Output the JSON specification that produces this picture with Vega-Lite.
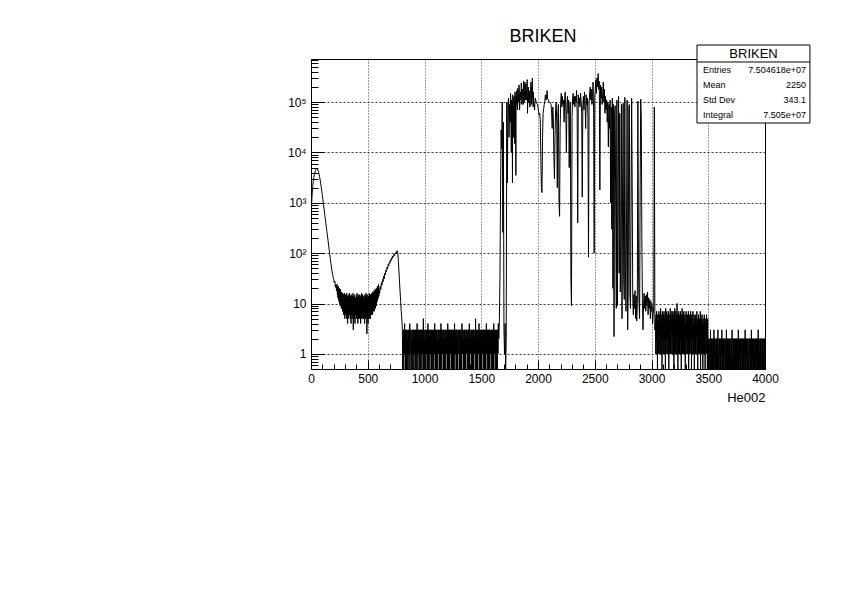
{
  "$schema": "https://vega.github.io/schema/vega-lite/v6.json",
  "width": 454,
  "height": 310,
  "autosize": {"type": "none"},
  "padding": {"left": 311, "top": 59, "right": 77, "bottom": 226},
  "background": "white",
  "config": {
    "view": {"stroke": null},
    "font": "Liberation Sans",
    "axis": {"labelFont": "Liberation Sans", "titleFont": "Liberation Sans", "labelColor": "black", "titleColor": "black", "tickColor": "black", "domainColor": "black"}
  },
  "title": {"text": "BRIKEN", "font": "Liberation Sans", "fontSize": 18, "fontWeight": "normal", "color": "black", "anchor": "middle", "frame": "group", "baseline": "alphabetic", "offset": -15, "dx": 5},
  "datasets": {
    "h": [
      {"x":0,"y":500},{"x":5,"y":900},{"x":10,"y":1500},{"x":15,"y":2100},{"x":20,"y":2700},{"x":25,"y":3200},{"x":30,"y":3700},{"x":35,"y":4100},{"x":40,"y":4400},{"x":45,"y":4650},
      {"x":50,"y":4750},{"x":55,"y":4700},{"x":60,"y":4500},{"x":65,"y":4200},{"x":70,"y":3800},{"x":75,"y":3350},{"x":80,"y":2900},{"x":85,"y":2450},{"x":90,"y":2050},{"x":95,"y":1700},
      {"x":100,"y":1400},{"x":105,"y":1150},{"x":110,"y":930},{"x":115,"y":760},{"x":120,"y":620},{"x":125,"y":500},{"x":130,"y":410},{"x":135,"y":330},{"x":140,"y":270},{"x":145,"y":220},
      {"x":150,"y":180},{"x":155,"y":145},{"x":160,"y":118},{"x":165,"y":96},{"x":170,"y":78},{"x":175,"y":64},{"x":180,"y":53},{"x":185,"y":44},{"x":190,"y":38},{"x":195,"y":33},
      {"x":200,"y":30},{"x":205,"y":26},{"x":210,"y":28},{"x":215,"y":21},{"x":220,"y":24},{"x":225,"y":18},
      {"x":230,"y":24},{"x":235,"y":21},{"x":240,"y":22},{"x":245,"y":19},{"x":250,"y":20},{"x":255,"y":17},{"x":260,"y":19},{"x":265,"y":16},{"x":270,"y":17},{"x":275,"y":15},
      {"x":280,"y":16},{"x":285,"y":15},{"x":290,"y":14},{"x":295,"y":16},{"x":300,"y":13},{"x":305,"y":15},{"x":310,"y":14},{"x":315,"y":16},{"x":320,"y":13},{"x":325,"y":14},
      {"x":330,"y":15},{"x":335,"y":13},{"x":340,"y":16},{"x":345,"y":14},{"x":350,"y":13},{"x":355,"y":15},{"x":360,"y":12},{"x":365,"y":14},{"x":370,"y":16},{"x":375,"y":13},
      {"x":380,"y":14},{"x":385,"y":15},{"x":390,"y":13},{"x":395,"y":12},{"x":400,"y":14},{"x":405,"y":16},{"x":410,"y":13},{"x":415,"y":15},{"x":420,"y":12},{"x":425,"y":14},
      {"x":430,"y":15},{"x":435,"y":13},{"x":440,"y":14},{"x":445,"y":16},{"x":450,"y":12},{"x":455,"y":15},{"x":460,"y":13},{"x":465,"y":14},{"x":470,"y":12},{"x":475,"y":15},
      {"x":480,"y":13},{"x":485,"y":16},{"x":490,"y":14},{"x":495,"y":12},{"x":500,"y":15},{"x":505,"y":13},{"x":510,"y":14},{"x":515,"y":16},{"x":520,"y":13},{"x":525,"y":15},
      {"x":530,"y":14},{"x":535,"y":16},{"x":540,"y":15},{"x":545,"y":17},{"x":550,"y":16},{"x":555,"y":18},{"x":560,"y":17},{"x":565,"y":19},{"x":570,"y":18},{"x":575,"y":20},
      {"x":580,"y":19},{"x":585,"y":22},{"x":590,"y":20},{"x":595,"y":24},
      {"x":232.5,"y":15},{"x":237.5,"y":13},{"x":242.5,"y":12},{"x":247.5,"y":11},{"x":252.5,"y":10},{"x":257.5,"y":9},{"x":262.5,"y":9},{"x":267.5,"y":8},{"x":272.5,"y":8},{"x":277.5,"y":7},
      {"x":282.5,"y":7},{"x":287.5,"y":6},{"x":292.5,"y":7},{"x":297.5,"y":5},{"x":302.5,"y":6},{"x":307.5,"y":7},{"x":312.5,"y":5},{"x":317.5,"y":6},{"x":322.5,"y":4},{"x":327.5,"y":6},
      {"x":332.5,"y":5},{"x":337.5,"y":7},{"x":342.5,"y":6},{"x":347.5,"y":5},{"x":352.5,"y":4},{"x":357.5,"y":6},{"x":362.5,"y":5},{"x":367.5,"y":7},{"x":372.5,"y":3},{"x":377.5,"y":6},
      {"x":382.5,"y":5},{"x":387.5,"y":4},{"x":392.5,"y":6},{"x":397.5,"y":7},{"x":402.5,"y":5},{"x":407.5,"y":6},{"x":412.5,"y":4},{"x":417.5,"y":5},{"x":422.5,"y":6},{"x":427.5,"y":5},
      {"x":432.5,"y":7},{"x":437.5,"y":4},{"x":442.5,"y":6},{"x":447.5,"y":5},{"x":452.5,"y":6},{"x":457.5,"y":5},{"x":462.5,"y":5},{"x":467.5,"y":6},{"x":472.5,"y":4},{"x":477.5,"y":7},
      {"x":482.5,"y":5},{"x":487.5,"y":6},{"x":492.5,"y":2.5},{"x":497.5,"y":5},{"x":502.5,"y":4},{"x":507.5,"y":6},{"x":512.5,"y":5},{"x":517.5,"y":6},{"x":522.5,"y":5},{"x":527.5,"y":6},
      {"x":532.5,"y":6},{"x":537.5,"y":7},{"x":542.5,"y":6},{"x":547.5,"y":7},{"x":552.5,"y":8},{"x":557.5,"y":7},{"x":562.5,"y":9},{"x":567.5,"y":8},{"x":572.5,"y":10},{"x":577.5,"y":9},
      {"x":582.5,"y":11},{"x":587.5,"y":12},{"x":592.5,"y":13},{"x":597.5,"y":14},
      {"x":600,"y":19},{"x":605,"y":16},{"x":610,"y":22},{"x":615,"y":19},{"x":620,"y":26},{"x":625,"y":23},{"x":630,"y":30},{"x":635,"y":27},{"x":640,"y":35},{"x":645,"y":31},
      {"x":650,"y":40},{"x":655,"y":37},{"x":660,"y":46},{"x":665,"y":43},{"x":670,"y":53},{"x":675,"y":49},{"x":680,"y":60},{"x":685,"y":56},{"x":690,"y":67},{"x":695,"y":63},
      {"x":700,"y":74},{"x":705,"y":70},{"x":710,"y":81},{"x":715,"y":77},{"x":720,"y":88},{"x":725,"y":84},{"x":730,"y":94},{"x":735,"y":90},{"x":740,"y":100},{"x":745,"y":96},
      {"x":750,"y":106},{"x":755,"y":102},{"x":760,"y":112},{"x":765,"y":98},{"x":770,"y":68},{"x":775,"y":44},{"x":780,"y":27},{"x":785,"y":17},{"x":790,"y":11},{"x":795,"y":7},
      {"x":800,"y":5},
      {"x":805,"y":3},{"x":810,"y":2},{"x":815,"y":3},{"x":820,"y":3},{"x":825,"y":4},{"x":830,"y":3},{"x":835,"y":2},{"x":840,"y":3},{"x":845,"y":3},{"x":850,"y":2},
      {"x":855,"y":3},{"x":860,"y":3},{"x":865,"y":2},{"x":870,"y":4},{"x":875,"y":3},{"x":880,"y":3},{"x":885,"y":2},{"x":890,"y":3},{"x":895,"y":3},{"x":900,"y":3},
      {"x":905,"y":2},{"x":910,"y":3},{"x":915,"y":3},{"x":920,"y":3},{"x":925,"y":2},{"x":930,"y":3},{"x":935,"y":4},{"x":940,"y":3},{"x":945,"y":2},{"x":950,"y":3},
      {"x":955,"y":3},{"x":960,"y":2},{"x":965,"y":3},{"x":970,"y":3},{"x":975,"y":3},{"x":980,"y":2},{"x":985,"y":3},{"x":990,"y":5},{"x":995,"y":3},{"x":1000,"y":2},
      {"x":1005,"y":3},{"x":1010,"y":3},{"x":1015,"y":2},{"x":1020,"y":3},{"x":1025,"y":3},{"x":1030,"y":4},{"x":1035,"y":3},{"x":1040,"y":2},{"x":1045,"y":3},{"x":1050,"y":3},
      {"x":1055,"y":2},{"x":1060,"y":3},{"x":1065,"y":3},{"x":1070,"y":3},{"x":1075,"y":2},{"x":1080,"y":3},{"x":1085,"y":3},{"x":1090,"y":4},{"x":1095,"y":3},{"x":1100,"y":2},
      {"x":1105,"y":3},{"x":1110,"y":3},{"x":1115,"y":2},{"x":1120,"y":3},{"x":1125,"y":3},{"x":1130,"y":3},{"x":1135,"y":2},{"x":1140,"y":3},{"x":1145,"y":4},{"x":1150,"y":3},
      {"x":1155,"y":3},{"x":1160,"y":2},{"x":1165,"y":3},{"x":1170,"y":3},{"x":1175,"y":2},{"x":1180,"y":3},{"x":1185,"y":3},{"x":1190,"y":3},{"x":1195,"y":2},{"x":1200,"y":3},
      {"x":1205,"y":4},{"x":1210,"y":3},{"x":1215,"y":2},{"x":1220,"y":3},{"x":1225,"y":3},{"x":1230,"y":3},{"x":1235,"y":2},{"x":1240,"y":3},{"x":1245,"y":3},{"x":1250,"y":2},
      {"x":1255,"y":3},{"x":1260,"y":3},{"x":1265,"y":4},{"x":1270,"y":2},{"x":1275,"y":3},{"x":1280,"y":3},{"x":1285,"y":3},{"x":1290,"y":2},{"x":1295,"y":3},{"x":1300,"y":3},
      {"x":1305,"y":2},{"x":1310,"y":3},{"x":1315,"y":3},{"x":1320,"y":3},{"x":1325,"y":2},{"x":1330,"y":4},{"x":1335,"y":3},{"x":1340,"y":3},{"x":1345,"y":2},{"x":1350,"y":3},
      {"x":1355,"y":3},{"x":1360,"y":2},{"x":1365,"y":3},{"x":1370,"y":3},{"x":1375,"y":3},{"x":1380,"y":2},{"x":1385,"y":3},{"x":1390,"y":3},{"x":1395,"y":4},{"x":1400,"y":3},
      {"x":1405,"y":2},{"x":1410,"y":3},{"x":1415,"y":3},{"x":1420,"y":2},{"x":1425,"y":3},{"x":1430,"y":3},{"x":1435,"y":3},{"x":1440,"y":2},{"x":1445,"y":3},{"x":1450,"y":5},
      {"x":1455,"y":3},{"x":1460,"y":3},{"x":1465,"y":2},{"x":1470,"y":3},{"x":1475,"y":3},{"x":1480,"y":4},{"x":1485,"y":3},{"x":1490,"y":2},{"x":1495,"y":3},{"x":1500,"y":3},
      {"x":1505,"y":2},{"x":1510,"y":3},{"x":1515,"y":3},{"x":1520,"y":3},{"x":1525,"y":2},{"x":1530,"y":3},{"x":1535,"y":3},{"x":1540,"y":2},{"x":1545,"y":4},{"x":1550,"y":3},
      {"x":1555,"y":3},{"x":1560,"y":2},{"x":1565,"y":3},{"x":1570,"y":3},{"x":1575,"y":3},{"x":1580,"y":2},{"x":1585,"y":3},{"x":1590,"y":3},{"x":1595,"y":2},{"x":1600,"y":3},
      {"x":1605,"y":3},{"x":1610,"y":4},{"x":1615,"y":3},{"x":1620,"y":2},{"x":1625,"y":3},{"x":1630,"y":3},{"x":1635,"y":3},{"x":1640,"y":2},{"x":1645,"y":3},
      {"x":807.5,"y":0},{"x":812.5,"y":1},{"x":817.5,"y":0},{"x":822.5,"y":1},{"x":827.5,"y":1},{"x":832.5,"y":0},{"x":837.5,"y":1},{"x":842.5,"y":0},{"x":847.5,"y":0},{"x":852.5,"y":1},
      {"x":857.5,"y":1},{"x":862.5,"y":0},{"x":867.5,"y":1},{"x":872.5,"y":0},{"x":877.5,"y":2},{"x":882.5,"y":1},{"x":887.5,"y":0},{"x":892.5,"y":1},{"x":897.5,"y":0},{"x":902.5,"y":1},
      {"x":907.5,"y":0},{"x":912.5,"y":1},{"x":917.5,"y":1},{"x":922.5,"y":0},{"x":927.5,"y":1},{"x":932.5,"y":0},{"x":937.5,"y":1},{"x":942.5,"y":0},{"x":947.5,"y":1},{"x":952.5,"y":1},
      {"x":957.5,"y":0},{"x":962.5,"y":1},{"x":967.5,"y":0},{"x":972.5,"y":1},{"x":977.5,"y":0},{"x":982.5,"y":1},{"x":987.5,"y":2},{"x":992.5,"y":0},{"x":997.5,"y":1},{"x":1002.5,"y":0},
      {"x":1007.5,"y":1},{"x":1012.5,"y":0},{"x":1017.5,"y":1},{"x":1022.5,"y":1},{"x":1027.5,"y":0},{"x":1032.5,"y":1},{"x":1037.5,"y":0},{"x":1042.5,"y":1},{"x":1047.5,"y":0},{"x":1052.5,"y":1},
      {"x":1057.5,"y":1},{"x":1062.5,"y":0},{"x":1067.5,"y":1},{"x":1072.5,"y":0},{"x":1077.5,"y":1},{"x":1082.5,"y":0},{"x":1087.5,"y":1},{"x":1092.5,"y":1},{"x":1097.5,"y":0},{"x":1102.5,"y":1},
      {"x":1107.5,"y":0},{"x":1112.5,"y":1},{"x":1117.5,"y":0},{"x":1122.5,"y":1},{"x":1127.5,"y":2},{"x":1132.5,"y":0},{"x":1137.5,"y":1},{"x":1142.5,"y":0},{"x":1147.5,"y":1},{"x":1152.5,"y":0},
      {"x":1157.5,"y":1},{"x":1162.5,"y":1},{"x":1167.5,"y":0},{"x":1172.5,"y":1},{"x":1177.5,"y":0},{"x":1182.5,"y":1},{"x":1187.5,"y":0},{"x":1192.5,"y":1},{"x":1197.5,"y":1},{"x":1202.5,"y":0},
      {"x":1207.5,"y":1},{"x":1212.5,"y":0},{"x":1217.5,"y":1},{"x":1222.5,"y":0},{"x":1227.5,"y":1},{"x":1232.5,"y":1},{"x":1237.5,"y":0},{"x":1242.5,"y":1},{"x":1247.5,"y":0},{"x":1252.5,"y":1},
      {"x":1257.5,"y":0},{"x":1262.5,"y":1},{"x":1267.5,"y":0},{"x":1272.5,"y":1},{"x":1277.5,"y":1},{"x":1282.5,"y":0},{"x":1287.5,"y":1},{"x":1292.5,"y":0},{"x":1297.5,"y":2},{"x":1302.5,"y":1},
      {"x":1307.5,"y":0},{"x":1312.5,"y":1},{"x":1317.5,"y":0},{"x":1322.5,"y":1},{"x":1327.5,"y":0},{"x":1332.5,"y":1},{"x":1337.5,"y":1},{"x":1342.5,"y":0},{"x":1347.5,"y":1},{"x":1352.5,"y":0},
      {"x":1357.5,"y":1},{"x":1362.5,"y":0},{"x":1367.5,"y":1},{"x":1372.5,"y":1},{"x":1377.5,"y":0},{"x":1382.5,"y":1},{"x":1387.5,"y":0},{"x":1392.5,"y":1},{"x":1397.5,"y":0},{"x":1402.5,"y":1},
      {"x":1407.5,"y":1},{"x":1412.5,"y":0},{"x":1417.5,"y":1},{"x":1422.5,"y":0},{"x":1427.5,"y":1},{"x":1432.5,"y":0},{"x":1437.5,"y":1},{"x":1442.5,"y":1},{"x":1447.5,"y":0},{"x":1452.5,"y":1},
      {"x":1457.5,"y":0},{"x":1462.5,"y":1},{"x":1467.5,"y":0},{"x":1472.5,"y":1},{"x":1477.5,"y":1},{"x":1482.5,"y":0},{"x":1487.5,"y":2},{"x":1492.5,"y":0},{"x":1497.5,"y":1},{"x":1502.5,"y":0},
      {"x":1507.5,"y":1},{"x":1512.5,"y":1},{"x":1517.5,"y":0},{"x":1522.5,"y":1},{"x":1527.5,"y":0},{"x":1532.5,"y":1},{"x":1537.5,"y":0},{"x":1542.5,"y":1},{"x":1547.5,"y":1},{"x":1552.5,"y":0},
      {"x":1557.5,"y":1},{"x":1562.5,"y":0},{"x":1567.5,"y":1},{"x":1572.5,"y":0},{"x":1577.5,"y":1},{"x":1582.5,"y":1},{"x":1587.5,"y":0},{"x":1592.5,"y":1},{"x":1597.5,"y":0},{"x":1602.5,"y":1},
      {"x":1607.5,"y":0},{"x":1612.5,"y":1},{"x":1617.5,"y":1},{"x":1622.5,"y":0},{"x":1627.5,"y":1},{"x":1632.5,"y":0},{"x":1637.5,"y":1},{"x":1642.5,"y":0},{"x":1647.5,"y":1},
      {"x":1650,"y":4},{"x":1655,"y":2},{"x":1660,"y":5},{"x":1665,"y":40},{"x":1670,"y":1500},{"x":1675,"y":28000},{"x":1680,"y":12000},{"x":1685,"y":100000},{"x":1690,"y":260},{"x":1695,"y":40000},
      {"x":1700,"y":3},{"x":1705,"y":1},{"x":1710,"y":4},{"x":1715,"y":0},{"x":1720,"y":2},{"x":1725,"y":100000},{"x":1730,"y":2500},{"x":1735,"y":80000},{"x":1740,"y":120000},{"x":1745,"y":20000},
      {"x":1750,"y":90000},{"x":1755,"y":40000},{"x":1760,"y":120000},{"x":1765,"y":10000},{"x":1770,"y":100000},{"x":1775,"y":2500},{"x":1780,"y":110000},{"x":1785,"y":60000},{"x":1790,"y":130000},{"x":1795,"y":15000},
      {"x":1800,"y":100000},{"x":1805,"y":3500},{"x":1810,"y":90000},{"x":1815,"y":140000},{"x":1820,"y":70000},{"x":1825,"y":150000},{"x":1830,"y":100000},{"x":1835,"y":180000},{"x":1840,"y":90000},{"x":1845,"y":160000},
      {"x":1850,"y":110000},{"x":1855,"y":200000},{"x":1860,"y":120000},{"x":1865,"y":170000},{"x":1870,"y":90000},{"x":1875,"y":210000},{"x":1880,"y":130000},{"x":1885,"y":250000},{"x":1890,"y":110000},{"x":1895,"y":180000},
      {"x":1900,"y":140000},{"x":1905,"y":280000},{"x":1910,"y":120000},{"x":1915,"y":200000},{"x":1920,"y":100000},{"x":1925,"y":150000},{"x":1930,"y":80000},{"x":1935,"y":120000},{"x":1940,"y":90000},{"x":1945,"y":200000},
      {"x":1950,"y":300000},{"x":1955,"y":110000},{"x":1960,"y":160000},{"x":1965,"y":90000},{"x":1970,"y":70000},{"x":1975,"y":100000},{"x":1980,"y":110000},{"x":1985,"y":100000},{"x":1990,"y":95000},{"x":1995,"y":90000},
      {"x":1752.5,"y":60000},{"x":1757.5,"y":150000},{"x":1762.5,"y":30000},{"x":1767.5,"y":110000},{"x":1772.5,"y":80000},{"x":1777.5,"y":140000},{"x":1782.5,"y":20000},{"x":1787.5,"y":120000},{"x":1792.5,"y":90000},{"x":1797.5,"y":160000},
      {"x":1802.5,"y":50000},{"x":1807.5,"y":130000},{"x":1812.5,"y":170000},{"x":1817.5,"y":80000},{"x":1822.5,"y":190000},{"x":1827.5,"y":100000},{"x":1832.5,"y":220000},{"x":1837.5,"y":70000},{"x":1842.5,"y":150000},{"x":1847.5,"y":120000},
      {"x":1852.5,"y":240000},{"x":1857.5,"y":90000},{"x":1862.5,"y":180000},{"x":1867.5,"y":130000},{"x":1872.5,"y":260000},{"x":1877.5,"y":100000},{"x":1882.5,"y":170000},{"x":1887.5,"y":140000},{"x":1892.5,"y":230000},{"x":1897.5,"y":110000},
      {"x":1902.5,"y":190000},{"x":1907.5,"y":60000},{"x":1912.5,"y":140000},{"x":1917.5,"y":100000},{"x":1922.5,"y":170000},{"x":1927.5,"y":80000},{"x":1932.5,"y":130000},{"x":1937.5,"y":250000},{"x":1942.5,"y":90000},{"x":1947.5,"y":150000},
      {"x":1952.5,"y":120000},{"x":1957.5,"y":80000},{"x":1962.5,"y":110000},{"x":1967.5,"y":90000},{"x":1972.5,"y":100000},{"x":1977.5,"y":120000},{"x":1982.5,"y":105000},
      {"x":2000,"y":80000},{"x":2005,"y":65000},{"x":2010,"y":55000},{"x":2015,"y":60000},{"x":2020,"y":45000},{"x":2025,"y":8000},{"x":2030,"y":2000},{"x":2035,"y":1600},{"x":2040,"y":20000},{"x":2045,"y":60000},
      {"x":2050,"y":75000},{"x":2055,"y":90000},{"x":2060,"y":100000},{"x":2065,"y":140000},{"x":2070,"y":110000},{"x":2075,"y":120000},{"x":2080,"y":170000},{"x":2085,"y":120000},{"x":2090,"y":110000},{"x":2095,"y":105000},
      {"x":2100,"y":100000},{"x":2105,"y":100000},{"x":2110,"y":95000},{"x":2115,"y":90000},{"x":2120,"y":60000},{"x":2125,"y":30000},{"x":2130,"y":80000},{"x":2135,"y":50000},{"x":2140,"y":8000},{"x":2145,"y":3000},
      {"x":2150,"y":20000},{"x":2155,"y":70000},{"x":2160,"y":100000},{"x":2165,"y":40000},{"x":2170,"y":2000},{"x":2175,"y":60000},{"x":2180,"y":90000},{"x":2185,"y":1000},{"x":2190,"y":540},{"x":2195,"y":30000},
      {"x":2200,"y":100000},{"x":2205,"y":150000},{"x":2210,"y":80000},{"x":2215,"y":130000},{"x":2220,"y":90000},{"x":2225,"y":110000},{"x":2230,"y":40000},{"x":2235,"y":120000},{"x":2240,"y":160000},{"x":2245,"y":70000},
      {"x":2250,"y":10000},{"x":2255,"y":90000},{"x":2260,"y":130000},{"x":2265,"y":60000},{"x":2270,"y":110000},{"x":2275,"y":5000},{"x":2280,"y":80000},{"x":2285,"y":100000},{"x":2290,"y":30},{"x":2295,"y":9},
      {"x":2300,"y":50000},{"x":2305,"y":120000},{"x":2310,"y":150000},{"x":2315,"y":90000},{"x":2320,"y":130000},{"x":2325,"y":80000},{"x":2330,"y":130000},{"x":2335,"y":100000},{"x":2340,"y":170000},{"x":2345,"y":60000},
      {"x":2350,"y":400},{"x":2355,"y":140000},{"x":2360,"y":90000},{"x":2365,"y":120000},{"x":2370,"y":80000},{"x":2375,"y":150000},{"x":2380,"y":100000},{"x":2385,"y":60000},{"x":2390,"y":1300},{"x":2395,"y":90000},
      {"x":2400,"y":130000},{"x":2405,"y":70000},{"x":2410,"y":160000},{"x":2415,"y":100000},{"x":2420,"y":30000},{"x":2425,"y":140000},{"x":2430,"y":90000},{"x":2435,"y":120000},{"x":2440,"y":50000},{"x":2445,"y":83},
      {"x":2450,"y":100000},{"x":2455,"y":150000},{"x":2460,"y":200000},{"x":2465,"y":110000},{"x":2470,"y":180000},{"x":2475,"y":90000},{"x":2480,"y":130000},{"x":2485,"y":250000},{"x":2490,"y":60000},{"x":2495,"y":100},
      {"x":2500,"y":120000},{"x":2505,"y":200000},{"x":2510,"y":280000},{"x":2515,"y":150000},{"x":2520,"y":300000},{"x":2525,"y":200000},{"x":2530,"y":370000},{"x":2535,"y":180000},{"x":2540,"y":260000},{"x":2545,"y":1800},
      {"x":2550,"y":220000},{"x":2555,"y":120000},{"x":2560,"y":200000},{"x":2565,"y":90000},{"x":2570,"y":150000},{"x":2575,"y":250000},{"x":2580,"y":100000},{"x":2585,"y":180000},{"x":2590,"y":60000},{"x":2595,"y":130000},
      {"x":2600,"y":70000},{"x":2605,"y":110000},{"x":2610,"y":40000},{"x":2615,"y":100000},{"x":2620,"y":13000},{"x":2625,"y":90000},{"x":2630,"y":30000},{"x":2635,"y":110000},{"x":2640,"y":1000},{"x":2645,"y":80000},
      {"x":2650,"y":300},{"x":2655,"y":120000},{"x":2660,"y":20},{"x":2665,"y":90000},{"x":2670,"y":2.2},{"x":2675,"y":60000},{"x":2680,"y":85000},{"x":2685,"y":500},{"x":2690,"y":8},{"x":2695,"y":110000},
      {"x":2700,"y":9},{"x":2705,"y":3000},{"x":2710,"y":130000},{"x":2715,"y":40},{"x":2720,"y":60000},{"x":2725,"y":17},{"x":2730,"y":200},{"x":2735,"y":90000},{"x":2740,"y":5},{"x":2745,"y":1500},
      {"x":2750,"y":95000},{"x":2755,"y":30},{"x":2760,"y":12},{"x":2765,"y":125000},{"x":2770,"y":50},{"x":2775,"y":7},{"x":2780,"y":400},{"x":2785,"y":110000},{"x":2790,"y":3},{"x":2795,"y":20},
      {"x":2800,"y":80000},{"x":2805,"y":90000},{"x":2810,"y":15},{"x":2815,"y":8},{"x":2820,"y":1000},{"x":2825,"y":120000},{"x":2830,"y":2000},{"x":2835,"y":12},{"x":2840,"y":6},{"x":2845,"y":15},
      {"x":2850,"y":8},{"x":2855,"y":18},{"x":2860,"y":5},{"x":2865,"y":14},{"x":2870,"y":4.5},{"x":2875,"y":10},{"x":2880,"y":105000},{"x":2885,"y":60},{"x":2890,"y":10},{"x":2895,"y":5},
      {"x":2900,"y":2000},{"x":2905,"y":115000},{"x":2910,"y":50000},{"x":2915,"y":190},{"x":2920,"y":12},{"x":2925,"y":3},{"x":2930,"y":10},{"x":2935,"y":16},{"x":2940,"y":8},{"x":2945,"y":14},
      {"x":2950,"y":7},{"x":2955,"y":15},{"x":2960,"y":9},{"x":2965,"y":17},{"x":2970,"y":6},{"x":2975,"y":13},{"x":2980,"y":8},{"x":2985,"y":12},{"x":2990,"y":5},{"x":2995,"y":11},
      {"x":3000,"y":7},{"x":3005,"y":9},{"x":3010,"y":4},{"x":3015,"y":6},{"x":3020,"y":9},{"x":3025,"y":80000},{"x":3030,"y":3},
      {"x":3035,"y":5},{"x":3040,"y":6},{"x":3045,"y":7},{"x":3050,"y":5},{"x":3055,"y":6},{"x":3060,"y":4},{"x":3065,"y":7},{"x":3070,"y":6},{"x":3075,"y":5},{"x":3080,"y":8},
      {"x":3085,"y":6},{"x":3090,"y":5},{"x":3095,"y":7},{"x":3100,"y":4},{"x":3105,"y":6},{"x":3110,"y":7},{"x":3115,"y":5},{"x":3120,"y":6},{"x":3125,"y":8},{"x":3130,"y":5},
      {"x":3135,"y":7},{"x":3140,"y":6},{"x":3145,"y":5},{"x":3150,"y":7},{"x":3155,"y":6},{"x":3160,"y":4},{"x":3165,"y":8},{"x":3170,"y":6},{"x":3175,"y":5},{"x":3180,"y":7},
      {"x":3185,"y":6},{"x":3190,"y":7},{"x":3195,"y":5},{"x":3200,"y":6},{"x":3205,"y":8},{"x":3210,"y":5},{"x":3215,"y":7},{"x":3220,"y":6},{"x":3225,"y":10},{"x":3230,"y":6},
      {"x":3235,"y":5},{"x":3240,"y":7},{"x":3245,"y":6},{"x":3250,"y":5},{"x":3255,"y":7},{"x":3260,"y":4},{"x":3265,"y":6},{"x":3270,"y":8},{"x":3275,"y":5},{"x":3280,"y":6},
      {"x":3285,"y":7},{"x":3290,"y":5},{"x":3295,"y":6},{"x":3300,"y":4},{"x":3305,"y":7},{"x":3310,"y":6},{"x":3315,"y":5},{"x":3320,"y":6},{"x":3325,"y":7},{"x":3330,"y":5},
      {"x":3335,"y":6},{"x":3340,"y":4},{"x":3345,"y":7},{"x":3350,"y":5},{"x":3355,"y":6},{"x":3360,"y":5},{"x":3365,"y":7},{"x":3370,"y":4},{"x":3375,"y":6},{"x":3380,"y":5},
      {"x":3385,"y":4},{"x":3390,"y":6},{"x":3395,"y":5},{"x":3400,"y":7},{"x":3405,"y":4},{"x":3410,"y":5},{"x":3415,"y":6},{"x":3420,"y":4},{"x":3425,"y":5},{"x":3430,"y":7},
      {"x":3435,"y":4},{"x":3440,"y":5},{"x":3445,"y":6},{"x":3450,"y":4},{"x":3455,"y":5},{"x":3460,"y":4},{"x":3465,"y":6},{"x":3470,"y":5},{"x":3475,"y":4},{"x":3480,"y":5},
      {"x":3485,"y":6},{"x":3490,"y":4},{"x":3495,"y":5},
      {"x":3037.5,"y":1},{"x":3042.5,"y":2},{"x":3047.5,"y":1},{"x":3052.5,"y":0},{"x":3057.5,"y":2},{"x":3062.5,"y":1},{"x":3067.5,"y":1},{"x":3072.5,"y":3},{"x":3077.5,"y":1},{"x":3082.5,"y":2},
      {"x":3087.5,"y":1},{"x":3092.5,"y":0},{"x":3097.5,"y":2},{"x":3102.5,"y":1},{"x":3107.5,"y":1},{"x":3112.5,"y":2},{"x":3117.5,"y":1},{"x":3122.5,"y":0},{"x":3127.5,"y":1},{"x":3132.5,"y":2},
      {"x":3137.5,"y":1},{"x":3142.5,"y":1},{"x":3147.5,"y":2},{"x":3152.5,"y":0},{"x":3157.5,"y":1},{"x":3162.5,"y":2},{"x":3167.5,"y":1},{"x":3172.5,"y":1},{"x":3177.5,"y":3},{"x":3182.5,"y":1},
      {"x":3187.5,"y":2},{"x":3192.5,"y":1},{"x":3197.5,"y":0},{"x":3202.5,"y":1},{"x":3207.5,"y":2},{"x":3212.5,"y":1},{"x":3217.5,"y":1},{"x":3222.5,"y":2},{"x":3227.5,"y":1},{"x":3232.5,"y":0},
      {"x":3237.5,"y":1},{"x":3242.5,"y":2},{"x":3247.5,"y":1},{"x":3252.5,"y":1},{"x":3257.5,"y":2},{"x":3262.5,"y":0},{"x":3267.5,"y":1},{"x":3272.5,"y":1},{"x":3277.5,"y":2},{"x":3282.5,"y":1},
      {"x":3287.5,"y":3},{"x":3292.5,"y":1},{"x":3297.5,"y":0},{"x":3302.5,"y":1},{"x":3307.5,"y":2},{"x":3312.5,"y":1},{"x":3317.5,"y":1},{"x":3322.5,"y":2},{"x":3327.5,"y":0},{"x":3332.5,"y":1},
      {"x":3337.5,"y":1},{"x":3342.5,"y":2},{"x":3347.5,"y":1},{"x":3352.5,"y":0},{"x":3357.5,"y":1},{"x":3362.5,"y":2},{"x":3367.5,"y":1},{"x":3372.5,"y":1},{"x":3377.5,"y":0},{"x":3382.5,"y":2},
      {"x":3387.5,"y":1},{"x":3392.5,"y":1},{"x":3397.5,"y":2},{"x":3402.5,"y":1},{"x":3407.5,"y":0},{"x":3412.5,"y":1},{"x":3417.5,"y":2},{"x":3422.5,"y":1},{"x":3427.5,"y":1},{"x":3432.5,"y":0},
      {"x":3437.5,"y":2},{"x":3442.5,"y":1},{"x":3447.5,"y":1},{"x":3452.5,"y":0},{"x":3457.5,"y":1},{"x":3462.5,"y":2},{"x":3467.5,"y":1},{"x":3472.5,"y":0},{"x":3477.5,"y":1},{"x":3482.5,"y":1},
      {"x":3487.5,"y":2},{"x":3492.5,"y":0},{"x":3497.5,"y":1},
      {"x":3500,"y":2},{"x":3505,"y":2},{"x":3510,"y":1},{"x":3515,"y":2},{"x":3520,"y":3},{"x":3525,"y":2},{"x":3530,"y":2},{"x":3535,"y":1},{"x":3540,"y":2},{"x":3545,"y":2},
      {"x":3550,"y":3},{"x":3555,"y":2},{"x":3560,"y":2},{"x":3565,"y":1},{"x":3570,"y":2},{"x":3575,"y":2},{"x":3580,"y":2},{"x":3585,"y":3},{"x":3590,"y":1},{"x":3595,"y":2},
      {"x":3600,"y":2},{"x":3605,"y":1},{"x":3610,"y":2},{"x":3615,"y":2},{"x":3620,"y":3},{"x":3625,"y":2},{"x":3630,"y":1},{"x":3635,"y":2},{"x":3640,"y":2},{"x":3645,"y":2},
      {"x":3650,"y":1},{"x":3655,"y":2},{"x":3660,"y":3},{"x":3665,"y":2},{"x":3670,"y":2},{"x":3675,"y":1},{"x":3680,"y":2},{"x":3685,"y":2},{"x":3690,"y":2},{"x":3695,"y":1},
      {"x":3700,"y":2},{"x":3705,"y":2},{"x":3710,"y":3},{"x":3715,"y":1},{"x":3720,"y":2},{"x":3725,"y":2},{"x":3730,"y":2},{"x":3735,"y":1},{"x":3740,"y":2},{"x":3745,"y":2},
      {"x":3750,"y":2},{"x":3755,"y":1},{"x":3760,"y":2},{"x":3765,"y":3},{"x":3770,"y":2},{"x":3775,"y":2},{"x":3780,"y":1},{"x":3785,"y":2},{"x":3790,"y":2},{"x":3795,"y":1},
      {"x":3800,"y":2},{"x":3805,"y":2},{"x":3810,"y":2},{"x":3815,"y":1},{"x":3820,"y":2},{"x":3825,"y":3},{"x":3830,"y":2},{"x":3835,"y":2},{"x":3840,"y":1},{"x":3845,"y":2},
      {"x":3850,"y":2},{"x":3855,"y":1},{"x":3860,"y":2},{"x":3865,"y":2},{"x":3870,"y":2},{"x":3875,"y":1},{"x":3880,"y":3},{"x":3885,"y":2},{"x":3890,"y":2},{"x":3895,"y":1},
      {"x":3900,"y":2},{"x":3905,"y":2},{"x":3910,"y":1},{"x":3915,"y":2},{"x":3920,"y":2},{"x":3925,"y":2},{"x":3930,"y":1},{"x":3935,"y":2},{"x":3940,"y":3},{"x":3945,"y":2},
      {"x":3950,"y":1},{"x":3955,"y":2},{"x":3960,"y":2},{"x":3965,"y":2},{"x":3970,"y":1},{"x":3975,"y":2},{"x":3980,"y":2},{"x":3985,"y":1},{"x":3990,"y":2},{"x":3995,"y":2},
      {"x":4000,"y":1},
      {"x":3502.5,"y":0},{"x":3507.5,"y":0},{"x":3512.5,"y":1},{"x":3517.5,"y":0},{"x":3522.5,"y":0},{"x":3527.5,"y":0},{"x":3532.5,"y":1},{"x":3537.5,"y":0},{"x":3542.5,"y":0},{"x":3547.5,"y":0},
      {"x":3552.5,"y":1},{"x":3557.5,"y":0},{"x":3562.5,"y":0},{"x":3567.5,"y":0},{"x":3572.5,"y":0},{"x":3577.5,"y":1},{"x":3582.5,"y":0},{"x":3587.5,"y":0},{"x":3592.5,"y":0},{"x":3597.5,"y":1},
      {"x":3602.5,"y":0},{"x":3607.5,"y":0},{"x":3612.5,"y":0},{"x":3617.5,"y":1},{"x":3622.5,"y":0},{"x":3627.5,"y":0},{"x":3632.5,"y":0},{"x":3637.5,"y":0},{"x":3642.5,"y":1},{"x":3647.5,"y":0},
      {"x":3652.5,"y":0},{"x":3657.5,"y":1},{"x":3662.5,"y":0},{"x":3667.5,"y":0},{"x":3672.5,"y":0},{"x":3677.5,"y":0},{"x":3682.5,"y":1},{"x":3687.5,"y":0},{"x":3692.5,"y":0},{"x":3697.5,"y":0},
      {"x":3702.5,"y":0},{"x":3707.5,"y":1},{"x":3712.5,"y":0},{"x":3717.5,"y":0},{"x":3722.5,"y":0},{"x":3727.5,"y":1},{"x":3732.5,"y":0},{"x":3737.5,"y":0},{"x":3742.5,"y":0},{"x":3747.5,"y":0},
      {"x":3752.5,"y":1},{"x":3757.5,"y":0},{"x":3762.5,"y":0},{"x":3767.5,"y":0},{"x":3772.5,"y":0},{"x":3777.5,"y":1},{"x":3782.5,"y":0},{"x":3787.5,"y":0},{"x":3792.5,"y":1},{"x":3797.5,"y":0},
      {"x":3802.5,"y":0},{"x":3807.5,"y":0},{"x":3812.5,"y":0},{"x":3817.5,"y":1},{"x":3822.5,"y":0},{"x":3827.5,"y":0},{"x":3832.5,"y":0},{"x":3837.5,"y":1},{"x":3842.5,"y":0},{"x":3847.5,"y":0},
      {"x":3852.5,"y":0},{"x":3857.5,"y":0},{"x":3862.5,"y":1},{"x":3867.5,"y":0},{"x":3872.5,"y":0},{"x":3877.5,"y":0},{"x":3882.5,"y":0},{"x":3887.5,"y":1},{"x":3892.5,"y":0},{"x":3897.5,"y":0},
      {"x":3902.5,"y":1},{"x":3907.5,"y":0},{"x":3912.5,"y":0},{"x":3917.5,"y":0},{"x":3922.5,"y":0},{"x":3927.5,"y":1},{"x":3932.5,"y":0},{"x":3937.5,"y":0},{"x":3942.5,"y":0},{"x":3947.5,"y":1},
      {"x":3952.5,"y":0},{"x":3957.5,"y":0},{"x":3962.5,"y":0},{"x":3967.5,"y":1},{"x":3972.5,"y":0},{"x":3977.5,"y":0},{"x":3982.5,"y":0},{"x":3987.5,"y":0},{"x":3992.5,"y":1},{"x":3997.5,"y":0}
    ],
    "box": [{"x1": 3401, "x2": 4396, "y1": 38540, "y2": 1366000, "yd": 628000}],
    "head": [{"x": 3899, "y": 925000, "t": "BRIKEN"}],
    "stats": [
      {"lx": 3454, "rx": 4361, "y": 435000, "label": "Entries", "value": "7.504618e+07"},
      {"lx": 3454, "rx": 4361, "y": 219000, "label": "Mean", "value": "2250"},
      {"lx": 3454, "rx": 4361, "y": 110400, "label": "Std Dev", "value": "343.1"},
      {"lx": 3454, "rx": 4361, "y": 55570, "label": "Integral", "value": "7.505e+07"}
    ]
  },
  "resolve": {"scale": {"y": "independent"}, "axis": {"x": "independent", "y": "independent"}},
  "layer": [
    {
      "data": {"name": "h"},
      "mark": {"type": "line", "color": "black", "strokeWidth": 1, "clip": true},
      "encoding": {
        "x": {"field": "x", "type": "quantitative",
          "scale": {"domain": [0, 4000], "nice": false, "zero": false},
          "axis": {"orient": "bottom", "values": [0, 500, 1000, 1500, 2000, 2500, 3000, 3500, 4000], "format": "d", "tickSize": -9, "domain": true, "grid": true, "gridColor": "#333", "gridDash": [1, 2], "gridOpacity": 1, "labelFontSize": 12, "labelPadding": 13, "labelFlush": false, "labelOverlap": false, "title": "He002", "titleFontSize": 13, "titleFontWeight": "normal", "titleAlign": "right", "titleBaseline": "alphabetic", "titleX": 454, "titleY": 32}},
        "y": {"field": "y", "type": "quantitative",
          "scale": {"type": "log", "domain": [0.5, 720000], "nice": false, "clamp": true},
          "axis": {"orient": "left", "values": [1, 10, 100, 1000, 10000, 100000], "tickSize": -13, "domain": true, "grid": true, "gridColor": "#333", "gridDash": [2, 2], "gridOpacity": 1, "labelFontSize": 12, "labelPadding": 18, "labelExpr": "datum.value == 1 ? '1' : datum.value == 10 ? '10' : datum.value == 100 ? '10²' : datum.value == 1000 ? '10³' : datum.value == 10000 ? '10⁴' : '10⁵'", "title": null}}
      }
    },
    {
      "data": {"name": "box"},
      "mark": {"type": "point", "opacity": 0},
      "encoding": {
        "x": {"field": "x1", "type": "quantitative",
          "scale": {"domain": [0, 4000], "nice": false, "zero": false},
          "axis": {"orient": "bottom", "values": [100, 200, 300, 400, 600, 700, 800, 900, 1100, 1200, 1300, 1400, 1600, 1700, 1800, 1900, 2100, 2200, 2300, 2400, 2600, 2700, 2800, 2900, 3100, 3200, 3300, 3400, 3600, 3700, 3800, 3900], "tickSize": -5, "domain": false, "grid": false, "labels": false, "title": null}},
        "y": {"field": "y1", "type": "quantitative",
          "scale": {"type": "log", "domain": [0.5, 720000], "nice": false},
          "axis": {"orient": "left", "values": [0.6, 0.7, 0.8, 0.9, 2, 3, 4, 5, 6, 7, 8, 9, 20, 30, 40, 50, 60, 70, 80, 90, 200, 300, 400, 500, 600, 700, 800, 900, 2000, 3000, 4000, 5000, 6000, 7000, 8000, 9000, 20000, 30000, 40000, 50000, 60000, 70000, 80000, 90000, 200000, 300000, 400000, 500000, 600000, 700000], "tickSize": -7, "domain": false, "grid": false, "labels": false, "title": null}}
      }
    },
    {
      "data": {"name": "box"},
      "mark": {"type": "point", "opacity": 0},
      "encoding": {
        "x": {"field": "x1", "type": "quantitative",
          "scale": {"domain": [0, 4000], "nice": false, "zero": false},
          "axis": {"orient": "top", "ticks": false, "labels": false, "grid": false, "domain": true, "title": null}},
        "y": {"field": "y1", "type": "quantitative",
          "scale": {"type": "log", "domain": [0.5, 720000], "nice": false},
          "axis": {"orient": "right", "ticks": false, "labels": false, "grid": false, "domain": true, "title": null}}
      }
    },
    {
      "data": {"name": "box"},
      "mark": {"type": "rect", "fill": "white", "stroke": "black", "strokeWidth": 1},
      "encoding": {
        "x": {"field": "x1", "type": "quantitative", "scale": {"domain": [0, 4000], "nice": false, "zero": false}, "axis": null},
        "x2": {"field": "x2"},
        "y": {"field": "y1", "type": "quantitative", "scale": {"type": "log", "domain": [0.5, 720000], "nice": false}, "axis": null},
        "y2": {"field": "y2"}
      }
    },
    {
      "data": {"name": "box"},
      "mark": {"type": "rule", "color": "black", "strokeWidth": 1},
      "encoding": {
        "x": {"field": "x1", "type": "quantitative", "scale": {"domain": [0, 4000], "nice": false, "zero": false}, "axis": null},
        "x2": {"field": "x2"},
        "y": {"field": "yd", "type": "quantitative", "scale": {"type": "log", "domain": [0.5, 720000], "nice": false}, "axis": null}
      }
    },
    {
      "data": {"name": "head"},
      "mark": {"type": "text", "font": "Liberation Sans", "fontSize": 13, "align": "center", "baseline": "middle", "color": "black"},
      "encoding": {
        "x": {"field": "x", "type": "quantitative", "scale": {"domain": [0, 4000], "nice": false, "zero": false}, "axis": null},
        "y": {"field": "y", "type": "quantitative", "scale": {"type": "log", "domain": [0.5, 720000], "nice": false}, "axis": null},
        "text": {"field": "t"}
      }
    },
    {
      "data": {"name": "stats"},
      "mark": {"type": "text", "font": "Liberation Sans", "fontSize": 9, "align": "left", "baseline": "middle", "color": "black"},
      "encoding": {
        "x": {"field": "lx", "type": "quantitative", "scale": {"domain": [0, 4000], "nice": false, "zero": false}, "axis": null},
        "y": {"field": "y", "type": "quantitative", "scale": {"type": "log", "domain": [0.5, 720000], "nice": false}, "axis": null},
        "text": {"field": "label"}
      }
    },
    {
      "data": {"name": "stats"},
      "mark": {"type": "text", "font": "Liberation Sans", "fontSize": 9, "align": "right", "baseline": "middle", "color": "black"},
      "encoding": {
        "x": {"field": "rx", "type": "quantitative", "scale": {"domain": [0, 4000], "nice": false, "zero": false}, "axis": null},
        "y": {"field": "y", "type": "quantitative", "scale": {"type": "log", "domain": [0.5, 720000], "nice": false}, "axis": null},
        "text": {"field": "value"}
      }
    }
  ]
}
